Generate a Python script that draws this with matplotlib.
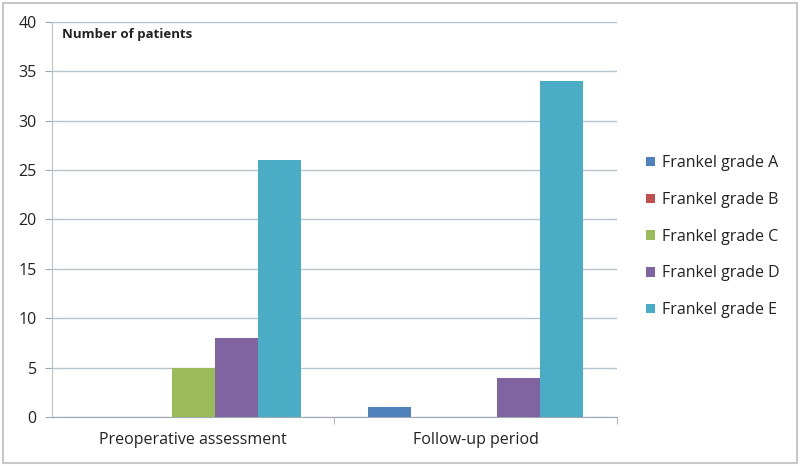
import numpy as np
import matplotlib.pyplot as plt
from matplotlib.patches import Rectangle

plt.rcParams['font.family'] = ['Open Sans', 'DejaVu Sans']

categories = ['Preoperative assessment', 'Follow-up period']
grades = ['Frankel grade A', 'Frankel grade B', 'Frankel grade C',
          'Frankel grade D', 'Frankel grade E']
grade_a = [0, 1]
grade_b = [0, 0]
grade_c = [5, 0]
grade_d = [8, 4]
grade_e = [26, 34]
colors = ['#4F81BD', '#C0504D', '#9BBB59', '#8064A2', '#4BACC6']

fig = plt.figure(figsize=(8, 4.66), dpi=100)
fig.patches.append(Rectangle((0.004, 0.006), 0.992, 0.988, transform=fig.transFigure,
                             fill=False, edgecolor='#c8c8c8', linewidth=1.5))
ax = fig.add_axes([0.065, 0.105, 0.706, 0.848])

x = np.arange(len(categories))
w = 0.152
series = [grade_a, grade_b, grade_c, grade_d, grade_e]
for i, vals in enumerate(series):
    ax.bar(x + (i - 2) * w, vals, width=w, color=colors[i], label=grades[i], zorder=3)

ax.set_xlim(-0.5, 1.5)
ax.set_ylim(0, 40)
ax.set_yticks(range(0, 41, 5))
ax.set_xticks(x)
ax.set_xticklabels(categories, fontsize=11.5, color='#222222')
ax.set_xticks([0.5, 1.5], minor=True)
ax.tick_params(axis='x', which='major', length=0, pad=11)
ax.tick_params(axis='x', which='minor', length=5, color='#a0a8b0')
ax.tick_params(axis='y', length=5, color='#a0a8b0', labelsize=11.5, labelcolor='#222222', pad=6)
ax.grid(axis='y', color='#b8c4cc', linewidth=1, zorder=0)
for s in ['top', 'right']:
    ax.spines[s].set_visible(False)
ax.spines['left'].set_color('#b8c4cc')
ax.spines['bottom'].set_color('#a0a8b0')

ax.text(0.018, 0.985, 'Number of patients', transform=ax.transAxes, fontsize=9.5,
        fontweight='bold', va='top', color='#222222')

fig.legend(loc='center left', bbox_to_anchor=(0.79, 0.492), frameon=False,
           fontsize=11.5, handlelength=0.55, handleheight=0.55, handletextpad=0.4,
           labelspacing=1.3, labelcolor='#222222')

fig.savefig('out.png', dpi=100)
